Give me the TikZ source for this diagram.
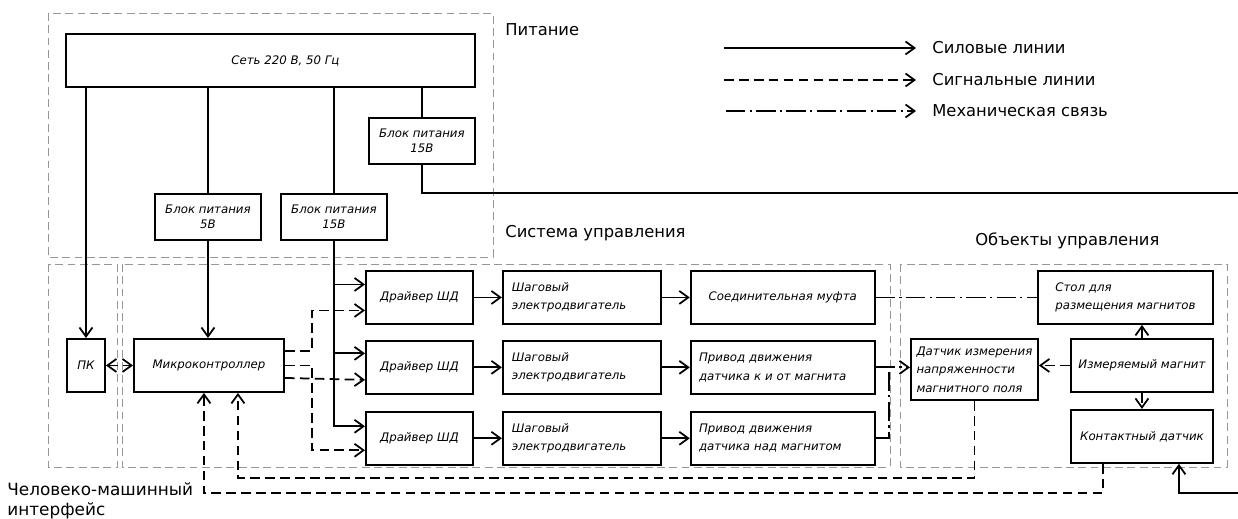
\documentclass[tikz,border=0pt]{standalone}
\usepackage{fontspec}
\setmainfont{DejaVu Sans}
\usepackage{tikz}
\usetikzlibrary{positioning,arrows.meta,calc}
\definecolor{grpgray}{RGB}{150,150,150}
\tikzset{
  blk/.style={draw, line width=1.1pt, anchor=north west, inner sep=2pt, minimum height=1.06cm,
              font=\fontsize{6.7}{10.5}\selectfont\itshape, align=left},
  psu/.style={blk, align=center, minimum width=2.12cm, minimum height=0.92cm,
              font=\fontsize{6.7}{8.5}\selectfont\itshape},
  drv/.style={blk, minimum width=2.14cm, align=center},
  sd/.style={blk, minimum width=3.16cm, text width=2.8cm},
  act/.style={blk, minimum width=3.68cm, text width=3.35cm},
  grp/.style={draw=grpgray, line width=0.5pt, dash pattern=on 4.5pt off 2.5pt},
  grplbl/.style={font=\fontsize{9.3}{11.5}\selectfont, anchor=west, inner sep=0pt},
  barb/.style={-{Straight Barb[length=1.8mm,width=2.6mm]}},
  wire/.style={line width=1pt},
  pwr/.style={wire, barb},
  sig/.style={pwr, dash pattern=on 5.5pt off 3pt},
  bisig/.style={wire, dash pattern=on 5.5pt off 3pt,
                {Straight Barb[length=1.8mm,width=2.6mm]}-{Straight Barb[length=1.8mm,width=2.6mm]}},
  mech/.style={wire, dash pattern=on 11pt off 2.5pt on 1.2pt off 2.5pt}
}

\begin{document}
\begin{tikzpicture}[x=0.02cm, y=-0.02cm]
\useasboundingbox (0,0) rectangle (1238,519);

\draw[grp] (48,13) rectangle (493,257);
\draw[grp] (48,264) rectangle (117,467);
\draw[grp] (122,264) rectangle (890,467);
\draw[grp] (900,264) rectangle (1227,467);

\node[grplbl] (tpit) at (505,30) {Питание};
\node[grplbl] (tsys) at (505,233) {Система управления};
\node[grplbl] (tobj) at (975,241) {Объекты управления};
\node[grplbl, anchor=north west, align=left, font=\fontsize{9.6}{11.5}\selectfont] (thmi) at (7,482) {Человеко-машинный\\интерфейс};

\node[grplbl] (lg1) at (932,48) {Силовые линии};
\node[grplbl] (lg2) at (932,80) {Сигнальные линии};
\node[grplbl] (lg3) at (932,111) {Механическая связь};
\coordinate (lg1s) at (724,48);
\coordinate (lg2s) at (724,80);
\coordinate (lg3s) at (726,111);
\draw[pwr] (lg1s) -- ([xshift=-0.32cm]lg1.west);
\draw[sig] (lg2s) -- ([xshift=-0.32cm]lg2.west);
\draw[mech, barb] (lg3s) -- ([xshift=-0.32cm]lg3.west);

\node[blk, minimum width=8.18cm, align=center] (set) at (65,33) {\hspace*{0.6cm}Сеть 220 В, 50 Гц};
\node[psu] (bp15a) at (368,117) {Блок питания\\15В};
\node[psu] (bp5) at (154,193) {Блок питания\\5В};
\node[psu] (bp15b) at (280,193) {Блок питания\\15В};

\node[blk, minimum width=0.76cm, align=center] (pk) at (66,338) {ПК};
\node[blk, minimum width=3cm, align=center] (mk) at (133,338) {Микроконтроллер};

\node[drv] (drv1) at (365,270) {Драйвер ШД};
\node[sd, right=0.56cm of drv1] (sd1) {Шаговый\\электродвигатель};
\node[act, right=0.56cm of sd1, align=center] (act1) {Соединительная муфта};
\node[drv, below=0.3cm of drv1] (drv2) {Драйвер ШД};
\node[sd, right=0.56cm of drv2] (sd2) {Шаговый\\электродвигатель};
\node[act, right=0.56cm of sd2] (act2) {Привод движения\\датчика к и от магнита};
\node[drv, below=0.32cm of drv2] (drv3) {Драйвер ШД};
\node[sd, right=0.56cm of drv3] (sd3) {Шаговый\\электродвигатель};
\node[act, right=0.56cm of sd3] (act3) {Привод движения\\датчика над магнитом};

\node[blk, minimum width=3.5cm] (stol) at (1037,270) {Стол для\\размещения магнитов};
\node[blk, minimum width=2.54cm, minimum height=1.22cm] (dat) at (910,338) {Датчик измерения\\напряженности\\магнитного поля};
\node[blk, minimum width=2.84cm, align=center] (mag) at (1070,338) {Измеряемый магнит};
\node[blk, minimum width=2.84cm, align=center, below=0.32cm of mag] (kont) {Контактный датчик};

\coordinate (pwrout) at (1238,193);
\coordinate (pwrin) at (1238,493);
\coordinate (y1) at (0,478);
\coordinate (y2) at (0,493);

\draw[wire] (set.south -| bp5.north) -- (bp5.north);
\draw[wire] (set.south -| bp15b.north) -- (bp15b.north);
\draw[wire] (set.south -| bp15a.north) -- (bp15a.north);
\draw[pwr] (set.south -| pk.north) -- (pk.north);
\draw[pwr] (bp5.south) -- (bp5.south |- mk.north);
\draw[wire] (bp15a.south) |- (pwrout);

\coordinate (d1p) at ([yshift=0.26cm]drv1.west);
\coordinate (d2p) at ([yshift=0.28cm]drv2.west);
\coordinate (d3p) at ([yshift=0.24cm]drv3.west);
\coordinate (d1s) at ([yshift=-0.26cm]drv1.west);
\coordinate (d2s) at ([yshift=-0.25cm]drv2.west);
\coordinate (d3s) at ([yshift=-0.24cm]drv3.west);
\draw[pwr] (bp15b.south) |- (d3p);
\draw[pwr] (bp15b.south |- d1p) -- (d1p);
\draw[pwr] (bp15b.south |- d2p) -- (d2p);

\coordinate (m1) at ([yshift=0.29cm]mk.east);
\coordinate (m3) at ([yshift=-0.25cm]mk.east);
\draw[sig] (m1) -- ++(0.54cm,0) |- (d1s);
\draw[sig] (m3) -- (d2s);
\draw[sig] (mk.east) -- ++(0.54cm,0) |- (d3s);
\draw[bisig] (pk.east) -- (mk.west);

\foreach \i in {1,2,3}{
  \draw[pwr] (drv\i) -- (sd\i);
  \draw[pwr] (sd\i) -- (act\i);
}

\draw[mech] (act1.east) -- (act1.east -| stol.west);
\coordinate (mj) at ([xshift=0.26cm]act2.east);
\draw[mech, barb] (act2.east) -- (mj) -- (mj -| dat.west);
\draw[mech] (act3.east) -| (mj);

\draw[sig] (mag.west) -- (mag.west -| dat.east);
\draw[mech, barb] (mag.north) -- (mag.north |- stol.south);
\draw[sig] (mag.south) -- (kont.north);

\coordinate (fb1) at ([xshift=0.58cm]mk.south);
\coordinate (fb2) at ([xshift=-0.1cm]mk.south);
\coordinate (ks) at ([xshift=-0.78cm]kont.south);
\draw[sig] (dat.south) -- (dat.south |- y1) -| (fb1);
\draw[sig] (ks) -- (ks |- y2) -| (fb2);
\draw[pwr] (pwrin) -| ([xshift=0.74cm]kont.south);
\end{tikzpicture}
\end{document}
